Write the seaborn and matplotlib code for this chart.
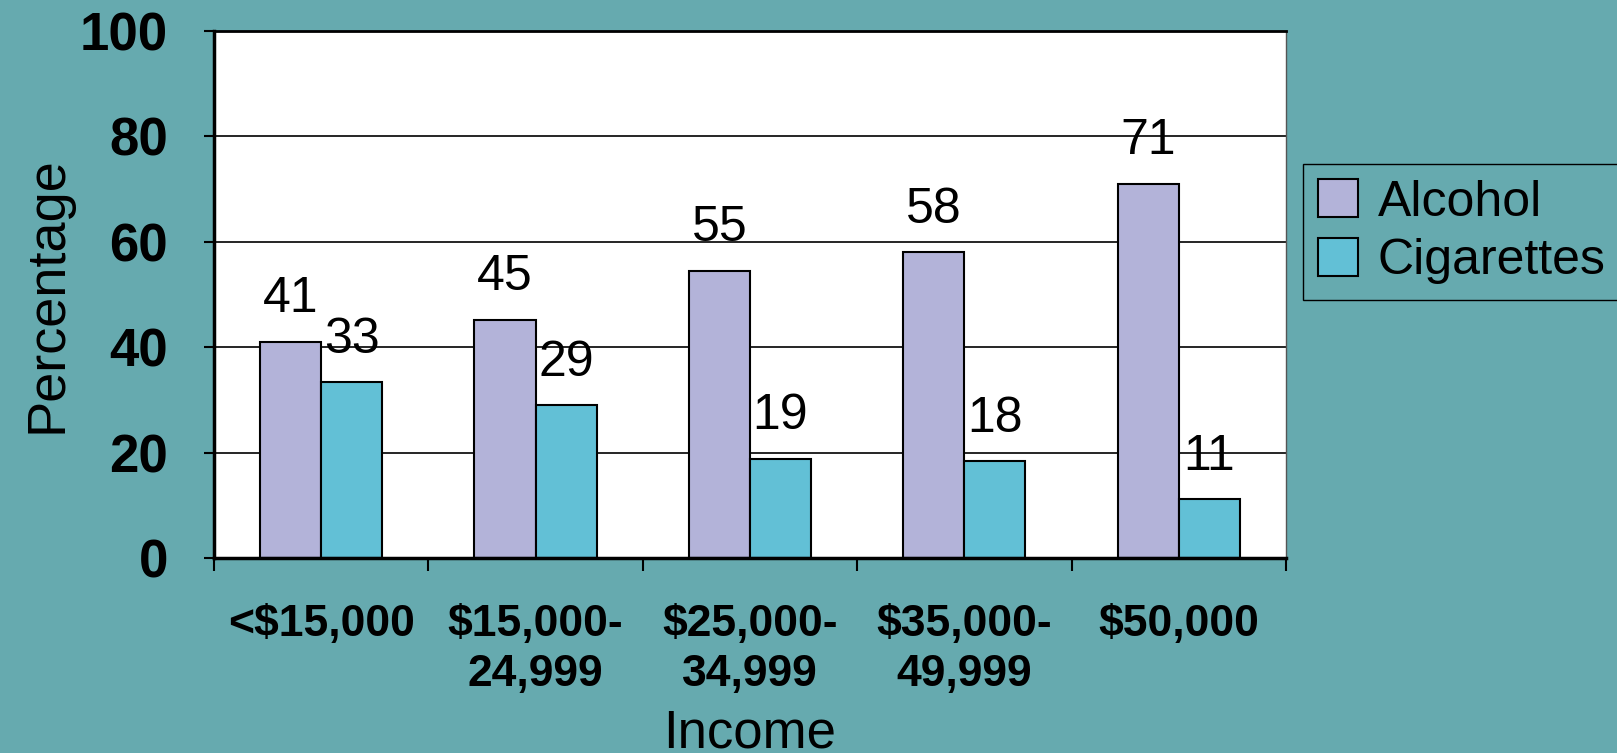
import pandas as pd
import matplotlib.pyplot as plt
import seaborn as sns
from matplotlib.patches import Patch
from matplotlib.ticker import FixedLocator

# data
income = ['<$15,000', '$15,000-\n24,999', '$25,000-\n34,999', '$35,000-\n49,999', '$50,000']
alcohol = [41, 45.2, 54.5, 58, 71]
cigarettes = [33.4, 29, 18.8, 18.4, 11.2]
alcohol_labels = ['41', '45', '55', '58', '71']
cigarette_labels = ['33', '29', '19', '18', '11']

bg = '#66AAAF'
colors = {'Alcohol': '#B3B3D9', 'Cigarettes': '#62C0D6'}

df = pd.DataFrame({
    'Income': income * 2,
    'Percentage': alcohol + cigarettes,
    'Substance': ['Alcohol'] * len(income) + ['Cigarettes'] * len(income),
})

sns.set_style('white')
plt.rcParams['font.family'] = ['Liberation Sans', 'DejaVu Sans']
plt.rcParams['text.color'] = 'black'
plt.rcParams['axes.labelcolor'] = 'black'
plt.rcParams['xtick.color'] = 'black'
plt.rcParams['ytick.color'] = 'black'

fig = plt.figure(figsize=(16.17, 7.53), dpi=100, facecolor=bg)
ax = fig.add_axes([0.1323, 0.259, 0.6630, 0.6998])
ax.set_facecolor('white')

sns.barplot(data=df, x='Income', y='Percentage', hue='Substance', palette=colors,
            saturation=1, width=0.57, gap=0, edgecolor='black', linewidth=1.5,
            ax=ax, legend=False)

for cont, labs in zip(ax.containers, [alcohol_labels, cigarette_labels]):
    ax.bar_label(cont, labels=labs, padding=14, fontsize=36, color='black')

ax.set_xlim(-0.5, len(income) - 0.5)
ax.set_ylim(0, 100)
ax.set_yticks([0, 20, 40, 60, 80, 100])
ax.yaxis.grid(True, color='black', linewidth=1.2)
ax.set_axisbelow(True)

# ticks between the groups, labels under the groups
ax.xaxis.set_minor_locator(FixedLocator([i - 0.5 for i in range(len(income) + 1)]))
ax.tick_params(axis='x', which='major', length=0, pad=33, labelsize=32)
ax.tick_params(axis='x', which='minor', length=9, width=1.5, direction='out', color='black', bottom=True)
ax.tick_params(axis='y', length=7, width=1.5, direction='out', color='black', left=True, pad=26, labelsize=38)
for lab in ax.get_xticklabels() + ax.get_yticklabels():
    lab.set_fontweight('bold')
    lab.set_color('black')
for lab in ax.get_xticklabels():
    lab.set_linespacing(1.3)

for side in ['left', 'bottom']:
    ax.spines[side].set_linewidth(2.5)
    ax.spines[side].set_color('black')
ax.spines['top'].set_linewidth(2)
ax.spines['top'].set_color('black')
ax.spines['right'].set_linewidth(1)
ax.spines['right'].set_color('#555555')

ax.set_ylabel('Percentage', fontsize=39, color='black')
ax.set_xlabel('Income', fontsize=38, color='black')
ax.yaxis.set_label_coords(-0.132, 0.5)
ax.xaxis.set_label_coords(0.5, -0.285)

handles = [Patch(facecolor=colors[k], edgecolor='black', linewidth=1.5, label=k) for k in colors]
fig.legend(handles=handles, loc='upper left', bbox_to_anchor=(1303 / 1617, 1 - 164 / 753),
           fontsize=36, frameon=True, facecolor=bg, edgecolor='black', fancybox=False,
           handlelength=0.8, handleheight=0.8, handletextpad=0.4, borderpad=0.3,
           labelspacing=0.25, borderaxespad=0, framealpha=1)

fig.savefig('out.png', dpi=100, facecolor=bg)
